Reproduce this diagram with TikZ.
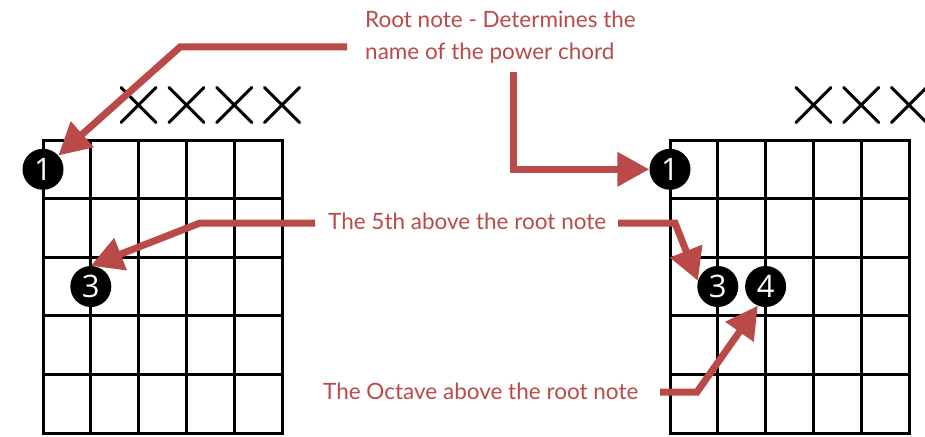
\documentclass[tikz,border=0pt]{standalone}
\usepackage{fontspec}
\setmainfont{Lato}
\newfontfamily\digitfont{Open Sans}
\usetikzlibrary{arrows.meta,positioning}
\definecolor{notered}{RGB}{185,74,72}

\tikzset{
  fret/.style={line width=3pt, line cap=rect},
  mute/.style={line width=3pt, line cap=round},
  finger/.style={circle, fill=black, minimum size=41pt, inner sep=0pt,
    text=white, font=\digitfont\fontsize{31}{31}\selectfont},
  callout/.style={draw=notered, line width=7pt, -{Triangle[length=32pt,width=33pt]}},
  calltext/.style={text=notered, inner sep=0pt, align=left,
    font=\fontsize{22.5}{32}\selectfont}
}

\begin{document}
\begin{tikzpicture}[x=1pt,y=-1pt]
		\useasboundingbox (0,0) rectangle (925,436);
		
		%Chord boxes
		\foreach \gx in {43,670}
		\foreach \i in {0,...,5} {
			\draw[fret] (\gx+\i*47.8,140) -- (\gx+\i*47.8,433);
			\draw[fret] (\gx,140+\i*58.6) -- (\gx+239,140+\i*58.6);
		}
		
		%Muted strings
		\foreach \sx in {138.6,186.4,234.2,282,813.4,861.2,909}
		\draw[mute] (\sx-17.5,87.5) -- (\sx+17.5,122.5) (\sx+17.5,87.5) -- (\sx-17.5,122.5);
		
		%Fingers
		\node[finger] (lone) at (43,169.3) {1};
		\node[finger] (lthree) at (90.8,286.5) {3};
		\node[finger] (rone) at (670,169.3) {1};
		\node[finger] (rthree) at (717.8,286.5) {3};
		\node[finger] (rfour) at (765.6,286.5) {4};
		
		%Labels
		\node[calltext, anchor=north west] (rootlbl) at (365,11) {Root note - Determines the\\name of the power chord};
		\node[calltext, anchor=base west] (fifthlbl) at (328,229) {The 5th above the root note};
		\node[calltext, anchor=base west] (octlbl) at (323,399) {The Octave above the root note};
		
		%Arrows
		\coordinate (rootA) at (347,47);
		\coordinate (rootB) at (513,72);
		\coordinate (fifthA) at (315,223);
		\coordinate (fifthB) at (618,223);
		\coordinate (octA) at (660,392);
		\draw[callout] (rootA) -- (180,47) -- (lone);
		\draw[callout] (rootB) |- (rone.west);
		\draw[callout] (fifthA) -- (200,223) -- (lthree.north);
		\draw[callout] (fifthB) -- (675,223) -- (rthree.164);
		\draw[callout] (octA) -- (697,392) -- (rfour.248);
	\end{tikzpicture}
\end{document}
